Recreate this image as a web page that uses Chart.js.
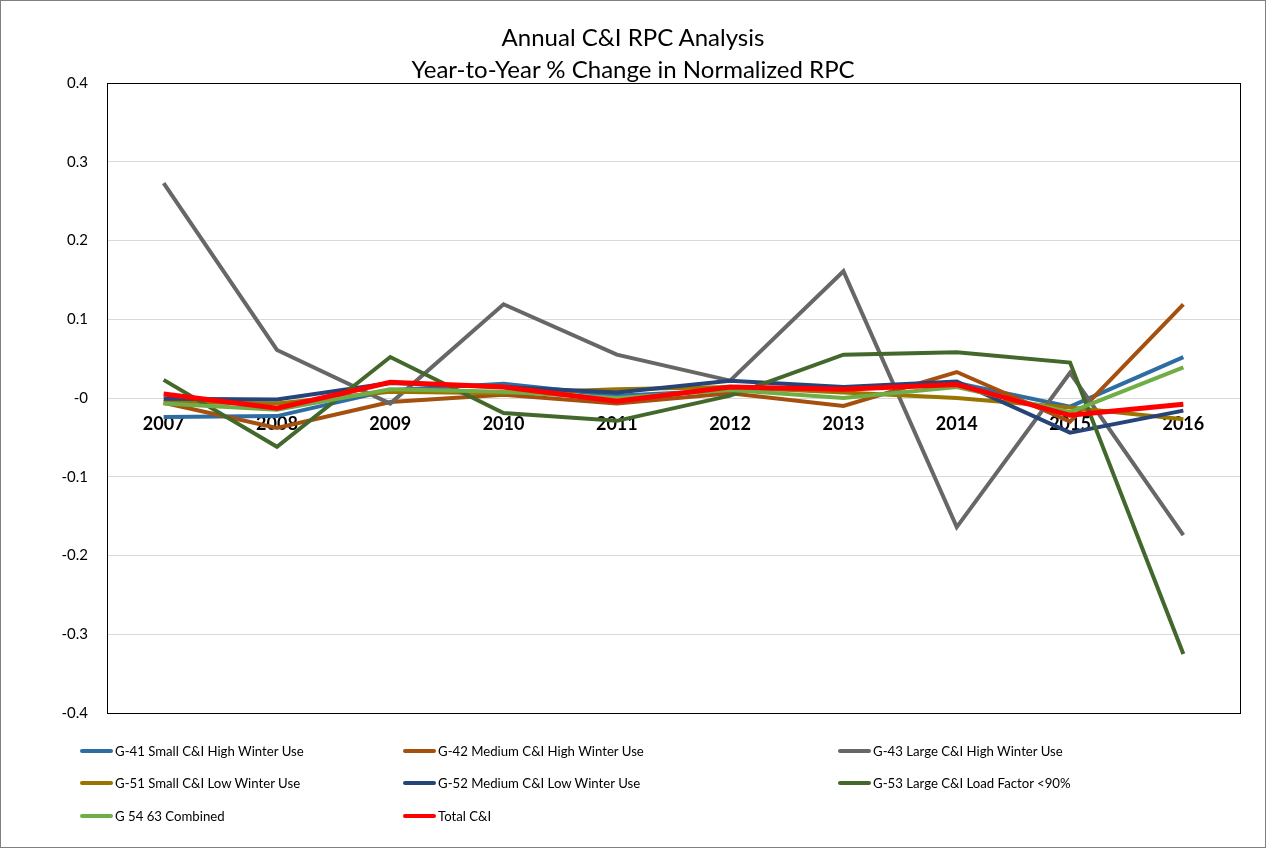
<!DOCTYPE html>
<html>
<head>
<meta charset="utf-8">
<title>Annual C&amp;I RPC Analysis</title>
<script src="https://cdn.jsdelivr.net/npm/chart.js@4.4.1/dist/chart.umd.min.js"></script>
<style>
    body { margin: 0; background: #fff; font-family: Lato, "Open Sans", sans-serif; }
    #wrap { position: relative; width: 1266px; height: 848px; }
    #frame { position: absolute; left: 0; top: 0; right: 0; bottom: 0; border: 1px solid #808080; pointer-events: none; }
    #titulo { position: absolute; left: 0; width: 1266px; top: 21px; text-align: center; font-size: 24px; line-height: 32px; color: #000; }
    .leg { position: absolute; font-size: 13.2px; color: #000; white-space: nowrap; }
    .leg span.linea { position: absolute; left: 0; top: 50%; width: 33px; height: 4px; margin-top: -2px; border-radius: 2px; }
    .leg span.txt { position: absolute; left: 35px; top: 50%; transform: translateY(-50%); }
</style>
</head>
<body>
<div id="wrap">
    <canvas id="myChart" width="1266" height="848"></canvas>
    <div id="titulo">Annual C&amp;I RPC Analysis<br>Year-to-Year % Change in Normalized RPC</div>
    <div id="leyenda"></div>
    <div id="frame"></div>
</div>
<script>
// datos
const years = ['2007', '2008', '2009', '2010', '2011', '2012', '2013', '2014', '2015', '2016'];
const yTickLabels = ['-0.4', '-0.3', '-0.2', '-0.1', '-0', '0.1', '0.2', '0.3', '0.4'];

const seriesNames = [
    'G-41 Small C&I High Winter Use',
    'G-42 Medium C&I High Winter Use',
    'G-43 Large C&I High Winter Use',
    'G-51 Small C&I Low Winter Use',
    'G-52 Medium C&I Low Winter Use',
    'G-53 Large C&I Load Factor <90%',
    'G 54 63 Combined',
    'Total C&I'
];
const seriesColors = ['#2E6DA4', '#A5500F', '#676767', '#9A7400', '#264478', '#43682B', '#70AD47', '#FF0000'];

const g41 = [-0.024, -0.023, 0.010, 0.018, 0.003, 0.010, 0.012, 0.019, -0.011, 0.052];
const g42 = [-0.006, -0.038, -0.005, 0.004, -0.007, 0.006, -0.010, 0.033, -0.030, 0.119];
const g43 = [0.273, 0.061, -0.007, 0.119, 0.055, 0.022, 0.161, -0.164, 0.032, -0.174];
const g51 = [-0.005, -0.007, 0.008, 0.006, 0.011, 0.014, 0.007, 0.000, -0.012, -0.027];
const g52 = [-0.001, -0.002, 0.019, 0.014, 0.007, 0.022, 0.014, 0.021, -0.044, -0.016];
const g53 = [0.023, -0.062, 0.052, -0.019, -0.029, 0.003, 0.055, 0.058, 0.045, -0.325];
const g5463 = [-0.007, -0.015, 0.011, 0.008, 0.000, 0.010, 0.000, 0.014, -0.018, 0.039];
const total = [0.005, -0.013, 0.020, 0.014, -0.004, 0.014, 0.011, 0.017, -0.022, -0.008];

const allSeries = [g41, g42, g43, g51, g52, g53, g5463, total];

// posiciones de la leyenda (3 columnas)
const legCols = [80, 403, 838];
const legRows = [751, 783, 816];

// borde negro del area de trazado
const plotBorder = {
    id: 'plotBorder',
    afterDraw(chart) {
        const a = chart.chartArea;
        const ctx = chart.ctx;
        ctx.save();
        ctx.strokeStyle = '#000';
        ctx.lineWidth = 1;
        ctx.strokeRect(Math.round(a.left) + 0.5, Math.round(a.top) + 0.5, Math.round(a.right - a.left), Math.round(a.bottom - a.top));
        ctx.restore();
    }
};

window.onload = () => {
    let datasets = [];
    for (let i = 0; i < allSeries.length; i++) {
        datasets.push({
            label: seriesNames[i],
            data: allSeries[i],
            borderColor: seriesColors[i],
            backgroundColor: seriesColors[i],
            borderWidth: i === 7 ? 5 : 4,
            pointRadius: 0,
            tension: 0,
            fill: false,
            order: allSeries.length - i
        });
    }

    const ctx = document.getElementById('myChart').getContext('2d');
    const chart = new Chart(ctx, {
        type: 'line',
        data: { labels: years, datasets: datasets },
        options: {
            responsive: false,
            animation: false,
            layout: { padding: { left: 0, right: 26, top: 83, bottom: 135 } },
            plugins: {
                legend: { display: false },
                title: { display: false },
                tooltip: { enabled: false }
            },
            scales: {
                x: {
                    type: 'category',
                    offset: true,
                    position: { y: 0 },
                    grid: { display: false, drawTicks: false },
                    border: { display: false },
                    ticks: {
                        color: '#000',
                        padding: 15,
                        maxRotation: 0,
                        font: { family: 'Lato', size: 18, weight: 'bold' }
                    }
                },
                y: {
                    min: -0.4,
                    max: 0.4,
                    afterFit: (s) => { s.width = 107; },
                    grid: { color: '#D9D9D9', lineWidth: 1, drawTicks: false },
                    border: { display: true, color: '#000', width: 1 },
                    ticks: {
                        stepSize: 0.1,
                        color: '#000',
                        padding: 19,
                        font: { family: 'Lato', size: 15 },
                        callback: function (value, index) { return yTickLabels[index]; }
                    }
                }
            }
        },
        plugins: [plotBorder]
    });

    // leyenda en HTML, en columnas como el original
    const leyenda = document.getElementById('leyenda');
    chart.data.datasets.forEach((ds, i) => {
        let item = document.createElement('div');
        item.className = 'leg';
        item.style.left = legCols[i % 3] + 'px';
        item.style.top = (legRows[Math.floor(i / 3)] - 10) + 'px';
        item.style.height = '20px';
        item.style.width = '360px';

        let linea = document.createElement('span');
        linea.className = 'linea';
        linea.style.background = ds.borderColor;

        let txt = document.createElement('span');
        txt.className = 'txt';
        txt.textContent = ds.label;

        item.appendChild(linea);
        item.appendChild(txt);
        leyenda.appendChild(item);
    });
};
</script>
</body>
</html>
